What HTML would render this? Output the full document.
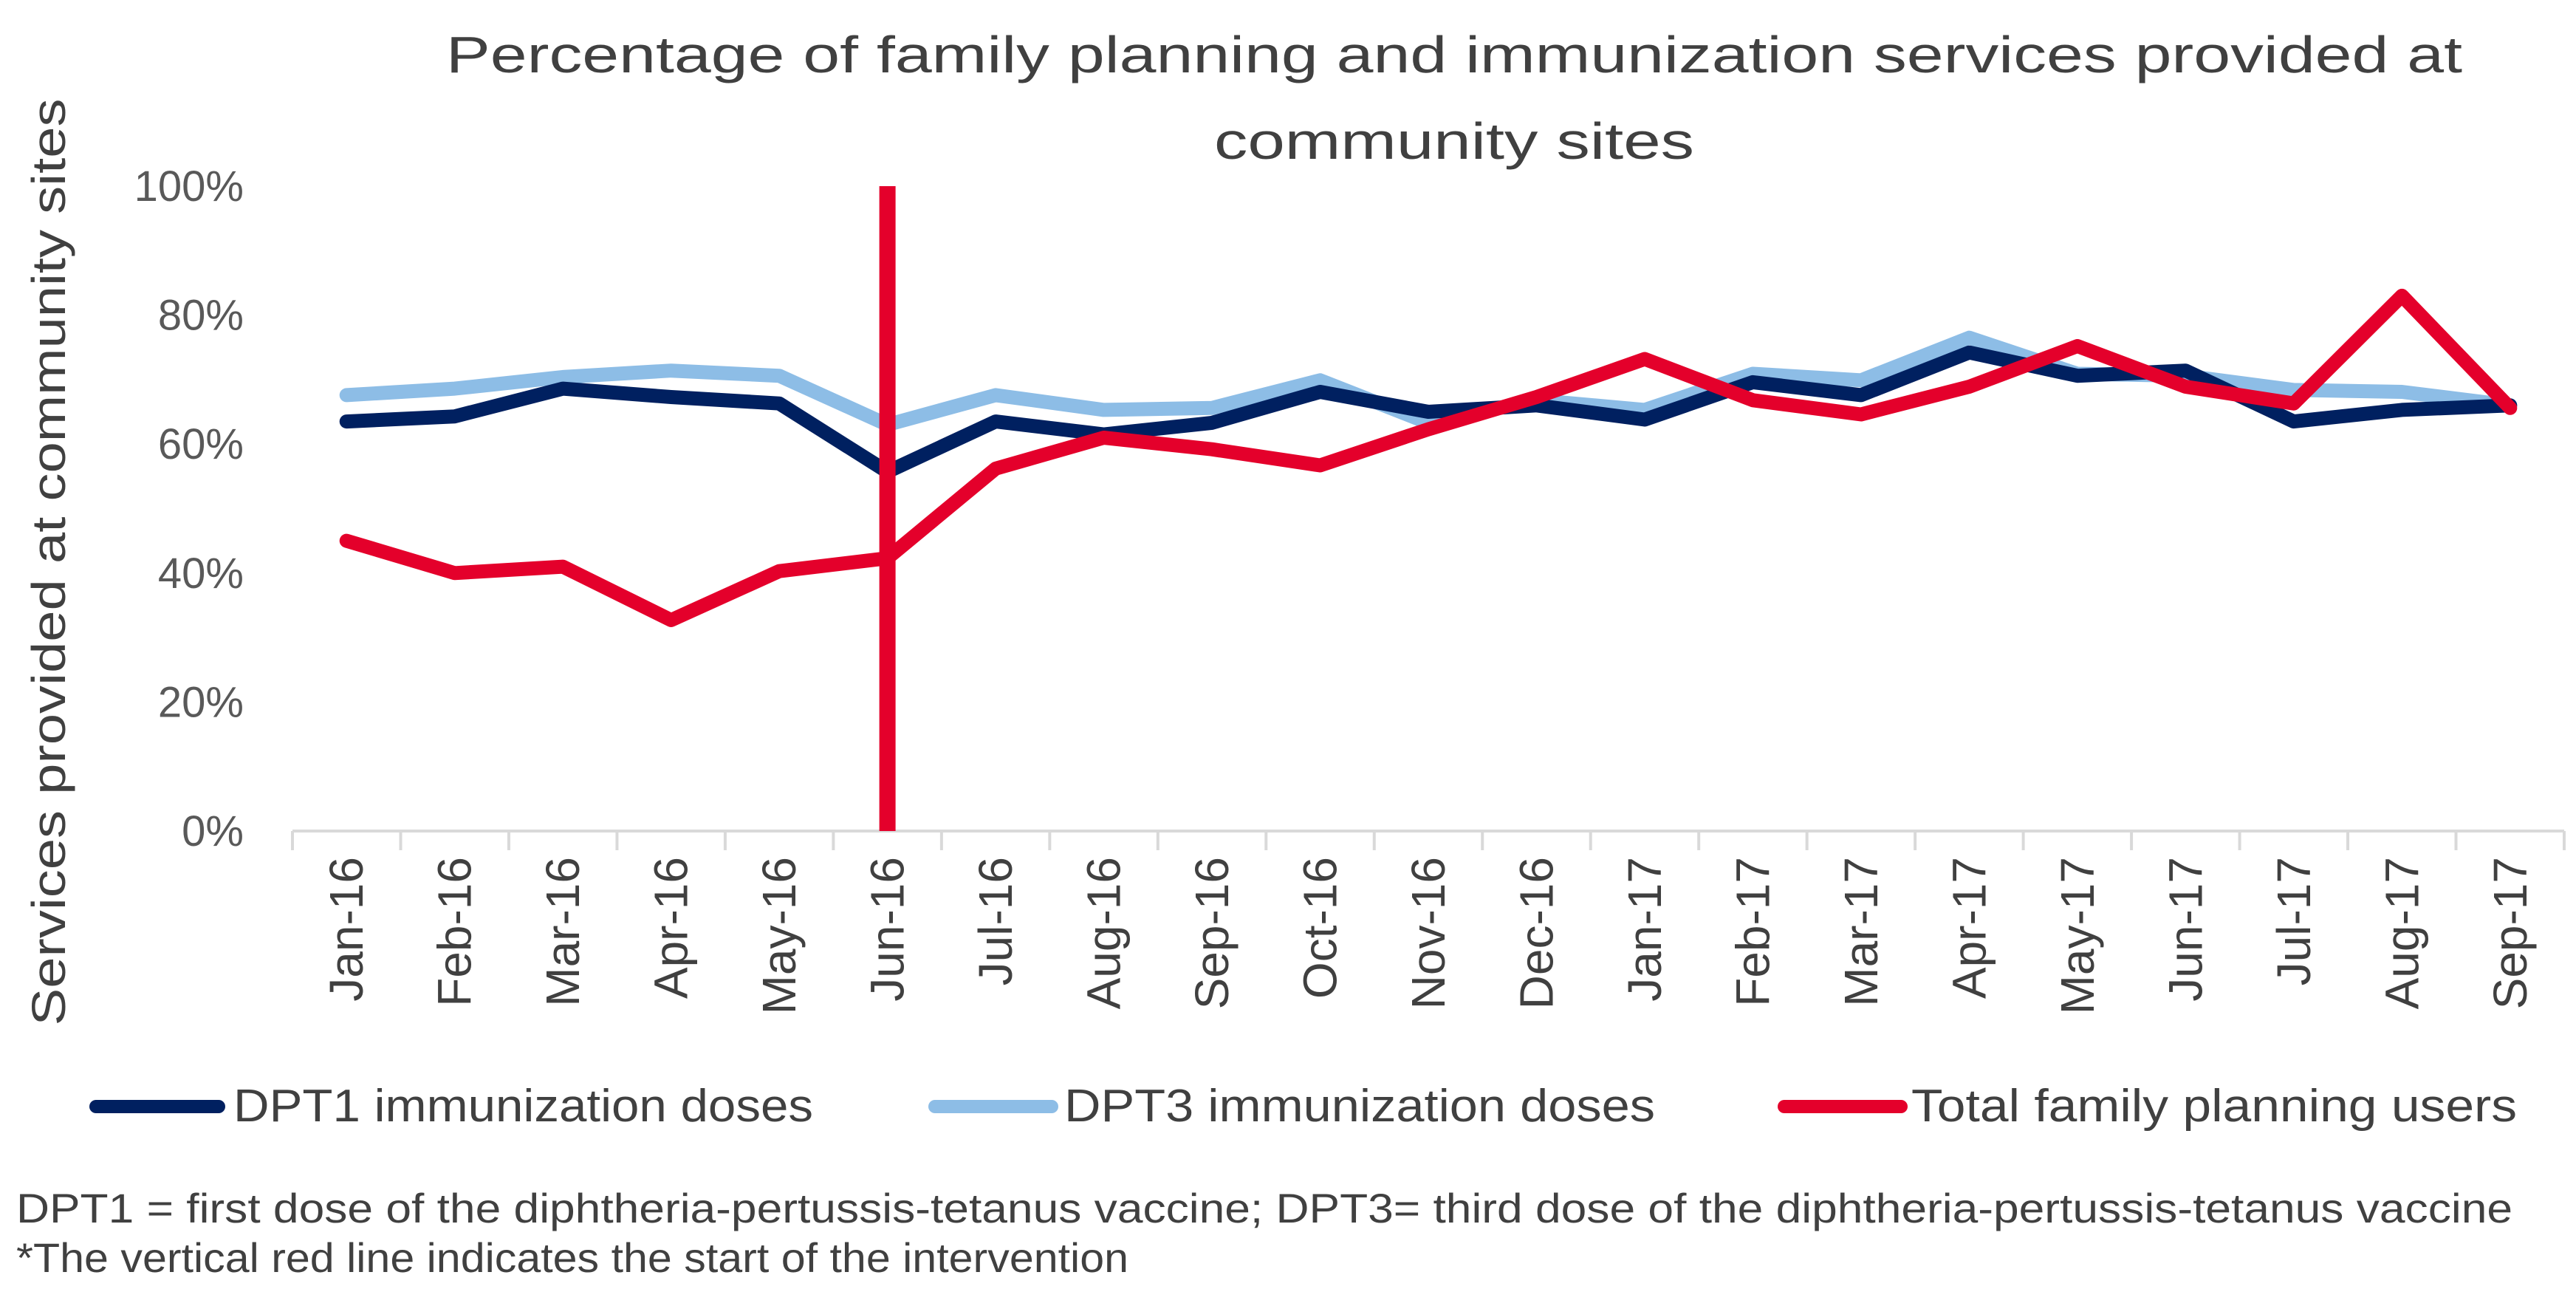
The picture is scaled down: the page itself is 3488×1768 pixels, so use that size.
<!DOCTYPE html>
<html><head><meta charset="utf-8"><style>
html,body{margin:0;padding:0;background:#fff;}
svg{display:block;font-family:"Liberation Sans",sans-serif;}
</style></head><body>
<svg id="chart" width="3488" height="1768" viewBox="0 0 3488 1768" xmlns="http://www.w3.org/2000/svg">
<rect width="3488" height="1768" fill="#fff"/>
<text x="1969" y="98" text-anchor="middle" font-size="70" fill="#404040" textLength="2730" lengthAdjust="spacingAndGlyphs">Percentage of family planning and immunization services provided at</text>
<text x="1969" y="215" text-anchor="middle" font-size="70" fill="#404040" textLength="650" lengthAdjust="spacingAndGlyphs">community sites</text>
<text transform="translate(88,761) rotate(-90)" text-anchor="middle" font-size="64" fill="#404040" textLength="1255" lengthAdjust="spacingAndGlyphs">Services provided at community sites</text>
<g id="yticks"></g><g id="xaxis"></g><g id="series"></g>
<g id="legend">
<line x1="130" y1="1498" x2="296" y2="1498" stroke="#002060" stroke-width="18" stroke-linecap="round"/>
<text x="316" y="1518" font-size="62" fill="#404040" textLength="785" lengthAdjust="spacingAndGlyphs">DPT1 immunization doses</text>
<line x1="1266" y1="1498" x2="1424" y2="1498" stroke="#8dbde6" stroke-width="18" stroke-linecap="round"/>
<text x="1441" y="1518" font-size="62" fill="#404040" textLength="800" lengthAdjust="spacingAndGlyphs">DPT3 immunization doses</text>
<line x1="2416" y1="1498" x2="2574" y2="1498" stroke="#e4002b" stroke-width="18" stroke-linecap="round"/>
<text x="2588" y="1518" font-size="62" fill="#404040" textLength="820" lengthAdjust="spacingAndGlyphs">Total family planning users</text>
</g>
<text x="22" y="1655" font-size="56" fill="#404040" textLength="3380" lengthAdjust="spacingAndGlyphs">DPT1 = first dose of the diphtheria-pertussis-tetanus vaccine; DPT3= third dose of the diphtheria-pertussis-tetanus vaccine</text>
<text x="22" y="1722" font-size="56" fill="#404040" textLength="1506" lengthAdjust="spacingAndGlyphs">*The vertical red line indicates the start of the intervention</text>
</svg>
<script>
const categories = ["Jan-16","Feb-16","Mar-16","Apr-16","May-16","Jun-16","Jul-16","Aug-16","Sep-16","Oct-16","Nov-16","Dec-16","Jan-17","Feb-17","Mar-17","Apr-17","May-17","Jun-17","Jul-17","Aug-17","Sep-17"];
const dpt1 = [63.5,64.3,68.6,67.3,66.3,55.7,63.5,61.5,63.3,68.1,65,66,63.8,69.6,67.6,74.2,70.6,71.4,63.5,65.3,66];
const dpt3 = [67.6,68.6,70.4,71.4,70.6,63,67.6,65.3,65.6,69.9,63.3,66.8,65.3,70.9,69.9,76.5,70.9,70.6,68.4,68.1,66];
const familyPlanning = [45,40,41,32.7,40.3,42.3,56.2,61,59.2,56.7,62.3,67.3,73.2,66.8,64.6,68.9,75.2,68.9,66.3,83,65.6];
const yTicks = [0,20,40,60,80,100];
const yTickLabels = ["0%","20%","40%","60%","80%","100%"];
const interventionIndex = 5;

const NS="http://www.w3.org/2000/svg";
const X0=396, X1=3472, Y0=1125, Y100=252;
const band=(X1-X0)/categories.length;
function xPos(i){return X0+band*(i+0.5);}
function yPos(v){return Y0-(v/100)*(Y0-Y100);}
function mk(tag,attrs,parent){const e=document.createElementNS(NS,tag);for(const k in attrs)e.setAttribute(k,attrs[k]);parent.appendChild(e);return e;}

const yg=document.getElementById('yticks');
yTicks.forEach((t,i)=>{
  const el=mk('text',{x:330,y:yPos(t)+20,'text-anchor':'end','font-size':58,fill:'#595959'},yg);
  
  
  el.textContent=yTickLabels[i];
});
const xg=document.getElementById('xaxis');
const ax=mk('line',{x1:X0,y1:Y0,x2:X1,y2:Y0,stroke:'#d9d9d9','stroke-width':4},xg);


for(let i=0;i<=categories.length;i++){
  const x=X0+band*i;
  const tk=mk('line',{x1:x,y1:Y0,x2:x,y2:Y0+26,stroke:'#d9d9d9','stroke-width':4},xg);
  
  
}
categories.forEach((c,i)=>{
  const x=xPos(i)+22;
  const el=mk('text',{transform:`translate(${x},1160) rotate(-90)`,'text-anchor':'end','font-size':64,fill:'#404040'},xg);
  
  
  el.textContent=c;
});
const sg=document.getElementById('series');
function drawLine(vals,color,name){
  const pts=vals.map((v,i)=>xPos(i).toFixed(1)+','+yPos(v).toFixed(1)).join(' ');
  const p=mk('polyline',{points:pts,fill:'none',stroke:color,'stroke-width':19,'stroke-linejoin':'round','stroke-linecap':'round'},sg);
  
  
}
drawLine(dpt3,'#8dbde6','dpt3-line');
drawLine(dpt1,'#002060','dpt1-line');
drawLine(familyPlanning,'#e4002b','family-planning-line');
const vx=xPos(interventionIndex);
const vl=mk('line',{x1:vx,y1:Y100,x2:vx,y2:Y0,stroke:'#e4002b','stroke-width':22},sg);


</script>
</body></html>
